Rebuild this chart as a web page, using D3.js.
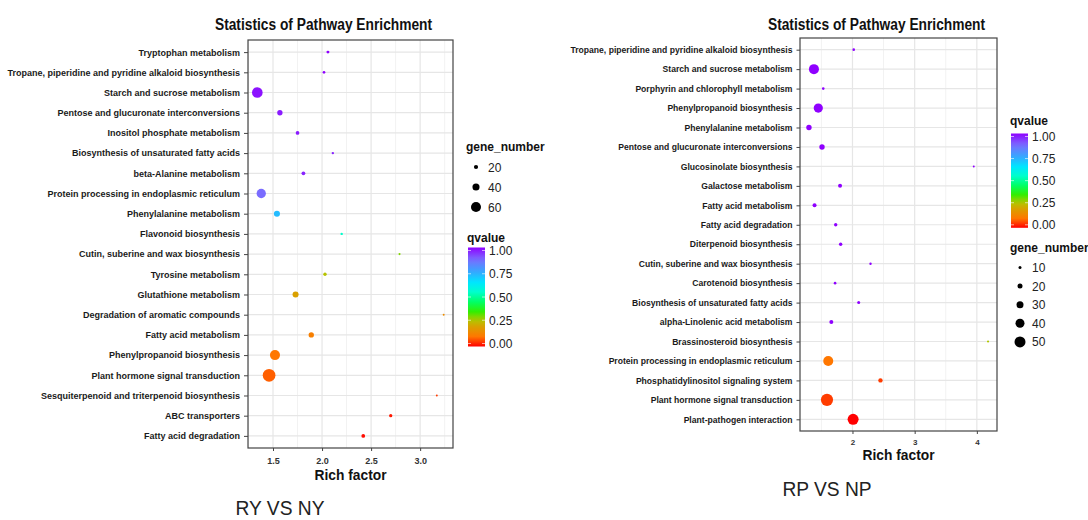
<!DOCTYPE html>
<html>
<head>
<meta charset="utf-8">
<script src="https://cdn.jsdelivr.net/npm/d3@7"></script>
<style>
body { margin: 0; background: #fff; }
svg { display: block; font-family: "Liberation Sans", Arial, sans-serif; }
</style>
</head>
<body>
<svg width="1088" height="520"></svg>
<script>
// ---- RY VS NY ----
var ryPathways = ["Tryptophan metabolism", "Tropane, piperidine and pyridine alkaloid biosynthesis",
    "Starch and sucrose metabolism", "Pentose and glucuronate interconversions", "Inositol phosphate metabolism",
    "Biosynthesis of unsaturated fatty acids", "beta-Alanine metabolism", "Protein processing in endoplasmic reticulum",
    "Phenylalanine metabolism", "Flavonoid biosynthesis", "Cutin, suberine and wax biosynthesis", "Tyrosine metabolism",
    "Glutathione metabolism", "Degradation of aromatic compounds", "Fatty acid metabolism", "Phenylpropanoid biosynthesis",
    "Plant hormone signal transduction", "Sesquiterpenoid and triterpenoid biosynthesis", "ABC transporters",
    "Fatty acid degradation"];
var ryRich = [2.06, 2.02, 1.34, 1.57, 1.75, 2.11, 1.81, 1.38, 1.54, 2.20, 2.79, 2.03, 1.73, 3.24, 1.89, 1.52, 1.46, 3.17, 2.70, 2.42];
var ryGenes = [12, 10, 64, 28, 17, 8, 17, 55, 33, 8, 6, 15, 33, 5, 28, 60, 78, 5, 14, 17];
var ryQ = [1, 1, 0.98, 0.97, 0.97, 0.96, 0.96, 0.88, 0.72, 0.55, 0.3, 0.26, 0.2, 0.15, 0.12, 0.1, 0.08, 0.05, 0.02, 0.01];
var ryTicks = [1.5, 2.0, 2.5, 3.0];
var ryGeneBreaks = [20, 40, 60];

// ---- RP VS NP ----
var rpPathways = ["Tropane, piperidine and pyridine alkaloid biosynthesis", "Starch and sucrose metabolism",
    "Porphyrin and chlorophyll metabolism", "Phenylpropanoid biosynthesis", "Phenylalanine metabolism",
    "Pentose and glucuronate interconversions", "Glucosinolate biosynthesis", "Galactose metabolism",
    "Fatty acid metabolism", "Fatty acid degradation", "Diterpenoid biosynthesis", "Cutin, suberine and wax biosynthesis",
    "Carotenoid biosynthesis", "Biosynthesis of unsaturated fatty acids", "alpha-Linolenic acid metabolism",
    "Brassinosteroid biosynthesis", "Protein processing in endoplasmic reticulum", "Phosphatidylinositol signaling system",
    "Plant hormone signal transduction", "Plant-pathogen interaction"];
var rpRich = [2.02, 1.38, 1.53, 1.45, 1.30, 1.51, 3.95, 1.80, 1.39, 1.73, 1.81, 2.29, 1.72, 2.10, 1.66, 4.18, 1.61, 2.45, 1.59, 2.01];
var rpGenes = [8, 45, 8, 41, 22, 22, 5, 15, 15, 12, 12, 7, 8, 10, 15, 6, 45, 17, 56, 50];
var rpQ = [1, 1, 1, 1, 1, 1, 1, 1, 1, 1, 1, 1, 1, 1, 1, 0.27, 0.1, 0.05, 0.05, 0.0];
var rpTicks = [2, 3, 4];
var rpGeneBreaks = [10, 20, 30, 40, 50];

var qBreaks = [0, 0.25, 0.5, 0.75, 1];

var svg = d3.select("svg");

// rainbow-ish qvalue palette (red -> purple)
var qColor = d3.scaleLinear()
    .domain([0, 0.1, 0.2, 0.27, 0.35, 0.45, 0.55, 0.65, 0.75, 0.88, 1])
    .range(["#ff0000", "#ff7700", "#d9a000", "#b0c800", "#33ee00", "#00ff66", "#00ffcc", "#00e5ff", "#33aaff", "#7a6cff", "#8f00ff"])
    .interpolate(d3.interpolateRgb);

function sText(g, x, y, str, size, weight, sx, anchor) {
    return g.append("text")
        .attr("transform", "translate(" + x + "," + y + ") scale(" + sx + ",1)")
        .attr("font-size", size)
        .attr("font-weight", weight)
        .attr("text-anchor", anchor || "start")
        .attr("fill", "#111")
        .text(str);
}

function drawPanel(o) {
    var g = svg.append("g");
    var ext = d3.extent(o.rich);
    var pad = (ext[1] - ext[0]) * 0.05;
    var x = d3.scaleLinear().domain([ext[0] - pad, ext[1] + pad]).range([o.left, o.right]);
    var y = d3.scalePoint().domain(o.names).range([o.top, o.bottom]).padding(0.6);
    var r = d3.scaleLinear().domain([0, o.rMax]).range(o.rRange);

    // grid
    var minor = [];
    for (var i = 0; i < o.ticks.length + 1; i++) {
        var step = o.ticks[1] - o.ticks[0];
        minor.push(o.ticks[0] - step / 2 + i * step);
    }
    g.append("g").selectAll("line").data(minor.filter(function (d) { return x(d) > o.left && x(d) < o.right; }))
        .enter().append("line")
        .attr("x1", function (d) { return x(d); }).attr("x2", function (d) { return x(d); })
        .attr("y1", o.top).attr("y2", o.bottom)
        .attr("stroke", "#f2f2f2").attr("stroke-width", 1);
    g.append("g").selectAll("line").data(o.ticks)
        .enter().append("line")
        .attr("x1", function (d) { return x(d); }).attr("x2", function (d) { return x(d); })
        .attr("y1", o.top).attr("y2", o.bottom)
        .attr("stroke", "#e6e6e6").attr("stroke-width", 1.2);
    g.append("g").selectAll("line").data(o.names)
        .enter().append("line")
        .attr("x1", o.left).attr("x2", o.right)
        .attr("y1", function (d) { return y(d); }).attr("y2", function (d) { return y(d); })
        .attr("stroke", "#e6e6e6").attr("stroke-width", 1.2);

    // points
    g.append("g").selectAll("circle").data(o.names)
        .enter().append("circle")
        .attr("cx", function (d, i) { return x(o.rich[i]); })
        .attr("cy", function (d) { return y(d); })
        .attr("r", function (d, i) { return r(o.genes[i]); })
        .attr("fill", function (d, i) { return qColor(o.q[i]); });

    // border
    g.append("rect")
        .attr("x", o.left).attr("y", o.top)
        .attr("width", o.right - o.left).attr("height", o.bottom - o.top)
        .attr("fill", "none").attr("stroke", "#444").attr("stroke-width", 1.2);

    // axes
    var ay = g.append("g").attr("transform", "translate(" + o.left + ",0)")
        .call(d3.axisLeft(y).tickSize(o.yTick).tickPadding(4));
    ay.select(".domain").remove();
    ay.selectAll("line").attr("stroke", "#444");
    ay.selectAll("text").attr("font-size", o.labelSize).attr("font-weight", "bold")
        .attr("fill", "#1a1a1a").attr("font-family", null);

    var ax = g.append("g").attr("transform", "translate(0," + o.bottom + ")")
        .call(d3.axisBottom(x).tickValues(o.ticks).tickSize(3).tickPadding(o.xPad).tickFormat(o.tickFmt));
    ax.select(".domain").remove();
    ax.selectAll("line").attr("stroke", "#444");
    ax.selectAll("text").attr("font-size", o.tickSize).attr("font-weight", "bold")
        .attr("fill", "#333").attr("font-family", null);

    // titles
    sText(g, o.titleX, 30, "Statistics of Pathway Enrichment", 17, "bold", 0.81, "middle");
    sText(g, (o.left + o.right) / 2, o.bottom + o.xTitleDy, "Rich factor", 15, "bold", 0.92, "middle");
    sText(g, o.capX, o.capY, o.caption, 20, "normal", 0.96, "middle").attr("fill", "#222");

    // size legend
    var sl = g.append("g");
    sText(sl, o.sizeLeg.x, o.sizeLeg.y, "gene_number", 12, "bold", 1, "start");
    o.geneBreaks.forEach(function (b, i) {
        var cy = o.sizeLeg.y + o.sizeLeg.first + i * o.sizeLeg.step;
        sl.append("circle").attr("cx", o.sizeLeg.x + 10).attr("cy", cy).attr("r", r(b)).attr("fill", "#000");
        sText(sl, o.sizeLeg.x + 22, cy + 4.5, String(b), 12, "normal", 1, "start").attr("fill", "#222");
    });

    // colour legend
    var cl = g.append("g");
    var cb = o.colLeg;
    sText(cl, cb.x, cb.y, "qvalue", 12, "bold", 1, "start");
    var gid = "grad" + o.id;
    var grad = svg.append("defs").append("linearGradient").attr("id", gid)
        .attr("x1", 0).attr("y1", 1).attr("x2", 0).attr("y2", 0);
    d3.range(0, 1.0001, 0.05).forEach(function (t) {
        grad.append("stop").attr("offset", t).attr("stop-color", qColor(t));
    });
    var qy = d3.scaleLinear().domain([0, 1]).range([cb.y0, cb.y1]);
    cl.append("rect").attr("x", cb.x + 1).attr("y", qy(1) - 3)
        .attr("width", cb.w).attr("height", qy(0) - qy(1) + 6)
        .attr("fill", "url(#" + gid + ")");
    qBreaks.forEach(function (b) {
        cl.append("line").attr("x1", cb.x + 1).attr("x2", cb.x + 4)
            .attr("y1", qy(b)).attr("y2", qy(b)).attr("stroke", "#fff").attr("stroke-opacity", 0.6);
        cl.append("line").attr("x1", cb.x + 1 + cb.w - 3).attr("x2", cb.x + 1 + cb.w)
            .attr("y1", qy(b)).attr("y2", qy(b)).attr("stroke", "#fff").attr("stroke-opacity", 0.6);
        sText(cl, cb.x + cb.w + 5, qy(b) + 4.5, b.toFixed(2), 12, "normal", 1, "start").attr("fill", "#222");
    });
}

drawPanel({
    id: "ry", names: ryPathways, rich: ryRich, genes: ryGenes, q: ryQ, ticks: ryTicks, geneBreaks: ryGeneBreaks,
    left: 248, right: 453, top: 40, bottom: 448,
    rMax: 80, rRange: [0.6, 6.5],
    yTick: 4, labelSize: 9, tickSize: 9, xPad: 7, xTitleDy: 32,
    tickFmt: d3.format(".1f"),
    titleX: 323.5, caption: "RY VS NY", capX: 280, capY: 515,
    sizeLeg: { x: 466, y: 151, first: 16, step: 20 },
    colLeg: { x: 467, y: 242, w: 17, y0: 343.5, y1: 250.5 }
});

drawPanel({
    id: "rp", names: rpPathways, rich: rpRich, genes: rpGenes, q: rpQ, ticks: rpTicks, geneBreaks: rpGeneBreaks,
    left: 800, right: 997, top: 38, bottom: 431,
    rMax: 60, rRange: [0.5, 6.5],
    yTick: 3.5, labelSize: 8.6, tickSize: 8, xPad: 5, xTitleDy: 29,
    tickFmt: d3.format("d"),
    titleX: 876.5, caption: "RP VS NP", capX: 827, capY: 496,
    sizeLeg: { x: 1010, y: 251.5, first: 16, step: 18.6 },
    colLeg: { x: 1010, y: 125, w: 17, y0: 224.8, y1: 136.5 }
});
</script>
</body>
</html>
